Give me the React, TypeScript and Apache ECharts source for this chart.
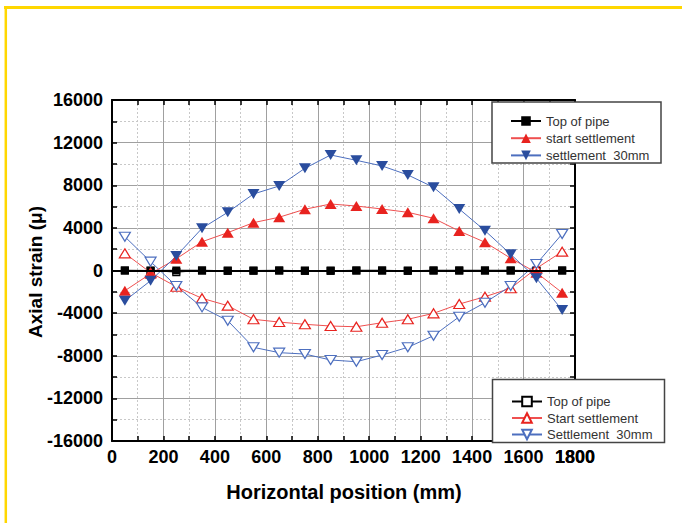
import React, { useEffect, useRef } from "react";
import * as echarts from "echarts";

const xPositions = [50, 150, 250, 350, 450, 550, 650, 750, 850, 950, 1050, 1150, 1250, 1350, 1450, 1550, 1650, 1750];
const topOfPipe = [0, -30, 0, 0, -40, -30, 0, -40, -40, 0, 0, -40, 0, 0, 0, 0, -40, 0];
const topOfPipeHollow = [0, 0, -150, 0, 0, 0, 0, 0, 0, 0, 0, 0, 0, 0, 0, 0, 0, 0];
const startSettlement = [-1900, -300, 1100, 2700, 3550, 4490, 5000, 5750, 6240, 6050, 5770, 5460, 4900, 3700, 2650, 1150, -200, -2080];
const settlement30 = [-2840, -960, 1360, 3960, 5460, 7180, 7930, 9590, 10840, 10340, 9810, 8970, 7810, 5770, 3740, 1520, -730, -3710];
const startSettlementHollow = [1610, -200, -1520, -2610, -3300, -4580, -4840, -5050, -5210, -5280, -4900, -4580, -4020, -3150, -2460, -1670, 200, 1770];
const settlement30Hollow = [3170, 830, -1450, -3460, -4710, -7210, -7710, -7840, -8400, -8560, -7930, -7210, -6120, -4340, -3020, -1460, 610, 3430];

const xMax = 1800;
const yMin = -16000;

const legend1Names = ["Top of pipe", "start settlement", "settlement  30mm"];
const legend2Names = ["Top of pipe (open)", "Start settlement", "Settlement  30mm"];
const legend2Labels: Record<string, string> = {
  "Top of pipe (open)": "Top of pipe",
  "Start settlement": "Start settlement",
  "Settlement  30mm": "Settlement  30mm",
};

const FONT = 'Arial, "Liberation Sans", Helvetica, sans-serif';
const RED = "#e8231f";
const RED_LINE = "#ef5050";
const BLUE = "#2a4d9e";
const BLUE_LINE = "#4d6fbf";

function pairs(vals: number[]) {
  return xPositions.map((x, i) => [x, vals[i]]);
}

export default function App() {
  const ref = useRef<HTMLDivElement>(null);
  useEffect(() => {
    if (!ref.current) return;
    const chart = echarts.init(ref.current, undefined, { renderer: "svg" });
    const tickStyle = { show: true, inside: true, length: 5, lineStyle: { color: "#000", width: 1.5 } };
    const minorTick = { show: true, splitNumber: 2, length: 5, lineStyle: { color: "#000", width: 1.5 } };
    const axisLine = { show: true, onZero: false, lineStyle: { color: "#000", width: 2 } };
    const plainLabel = (v: number) => String(Math.round(v));
    const labelStyle = {
      color: "#000",
      fontFamily: FONT,
      fontWeight: "bold" as const,
      fontSize: 18,
      formatter: plainLabel,
    };
    const hiddenLabel = { show: false, fontSize: 1, formatter: () => "" };
    const option: any = {
      animation: false,
      backgroundColor: "#fff",
      grid: { left: 112, right: 107, top: 100, bottom: 82, containLabel: false },
      xAxis: [
        {
          type: "value",
          min: 0,
          max: xMax,
          interval: 200,
          position: "bottom",
          axisLine,
          axisTick: tickStyle,
          minorTick,
          axisLabel: { ...labelStyle, margin: 7, showMaxLabel: true },
          splitLine: { show: true, lineStyle: { color: "#a0a0a0", width: 1 } },
          minorSplitLine: { show: true, lineStyle: { color: "#c8c8c8", width: 1, type: [2, 2] } },
        },
        {
          type: "value",
          min: 0,
          max: xMax,
          interval: 200,
          position: "top",
          axisLine,
          axisTick: tickStyle,
          minorTick,
          axisLabel: hiddenLabel,
          splitLine: { show: false },
        },
      ],
      yAxis: [
        {
          type: "value",
          min: yMin,
          max: 16000,
          interval: 4000,
          position: "left",
          axisLine,
          axisTick: tickStyle,
          minorTick,
          axisLabel: { ...labelStyle, margin: 9 },
          splitLine: { show: true, lineStyle: { color: "#a0a0a0", width: 1 } },
          minorSplitLine: { show: true, lineStyle: { color: "#c8c8c8", width: 1, type: [2, 2] } },
        },
        {
          type: "value",
          min: yMin,
          max: 16000,
          interval: 4000,
          position: "right",
          axisLine,
          axisTick: tickStyle,
          minorTick,
          axisLabel: hiddenLabel,
          splitLine: { show: false },
        },
      ],
      legend: [
        {
          data: legend1Names,
          orient: "vertical",
          left: 510,
          top: 114.5,
          padding: 0,
          itemWidth: 30,
          itemHeight: 12,
          itemGap: 4.2,
          z: 10,
          selectedMode: false,
          textStyle: { fontFamily: FONT, fontSize: 13, color: "#333" },
        },
        {
          data: legend2Names,
          orient: "vertical",
          left: 511,
          top: 395,
          padding: 0,
          itemWidth: 30,
          itemHeight: 12,
          itemGap: 3.5,
          z: 10,
          selectedMode: false,
          formatter: (n: string) => legend2Labels[n] ?? n,
          textStyle: { fontFamily: FONT, fontSize: 13, color: "#333" },
        },
      ],
      graphic: [
        { type: "line", z: 100, shape: { x1: 4, y1: 7.5, x2: 682, y2: 7.5 }, style: { stroke: "#ffd700", lineWidth: 3 } },
        { type: "line", z: 100, shape: { x1: 5.8, y1: 6, x2: 5.8, y2: 523 }, style: { stroke: "#ffd700", lineWidth: 2.5 } },
        {
          type: "rect",
          z: 5,
          shape: { x: 492, y: 102, width: 169, height: 61 },
          style: { fill: "#fff", stroke: "#444", lineWidth: 1.5 },
        },
        {
          type: "rect",
          z: 5,
          shape: { x: 492.5, y: 379.5, width: 172, height: 63 },
          style: { fill: "#fff", stroke: "#444", lineWidth: 1.5 },
        },
        {
          type: "text",
          z: 10,
          style: {
            text: "Horizontal position (mm)",
            x: 344,
            y: 492,
            align: "center",
            verticalAlign: "middle",
            fontFamily: FONT,
            fontWeight: "bold",
            fontSize: 20,
            fill: "#000",
          },
        },
        {
          type: "text",
          z: 10,
          x: 35,
          y: 272,
          rotation: Math.PI / 2,
          style: {
            text: "Axial strain (\u03bc)",
            x: 0,
            y: 0,
            align: "center",
            verticalAlign: "middle",
            fontFamily: FONT,
            fontWeight: "bold",
            fontSize: 19,
            fill: "#000",
          },
        },
      ],
      series: [
        {
          name: "Top of pipe (open)",
          type: "line",
          z: 2,
          data: pairs(topOfPipeHollow),
          symbol: "rect",
          symbolSize: 7,
          itemStyle: { color: "#fff", borderColor: "#000", borderWidth: 1.2 },
          lineStyle: { color: "#000", width: 1 },
        },
        {
          name: "Top of pipe",
          type: "line",
          z: 3,
          data: pairs(topOfPipe),
          symbol: "rect",
          symbolSize: 8,
          itemStyle: { color: "#000" },
          lineStyle: { color: "#000", width: 1.5 },
          markLine: {
            silent: true,
            symbol: "none",
            label: { show: false },
            lineStyle: { color: "#000", width: 2, type: "solid" },
            data: [{ yAxis: 0 }],
          },
        },
        {
          name: "Start settlement",
          type: "line",
          z: 3,
          data: pairs(startSettlementHollow),
          symbol: "triangle",
          symbolSize: [11, 9],
          itemStyle: { color: "#fff", borderColor: RED, borderWidth: 1.2 },
          lineStyle: { color: RED_LINE, width: 1 },
        },
        {
          name: "Settlement  30mm",
          type: "line",
          z: 3,
          data: pairs(settlement30Hollow),
          symbol: "triangle",
          symbolRotate: 180,
          symbolSize: [11, 9],
          itemStyle: { color: "#fff", borderColor: BLUE_LINE, borderWidth: 1.2 },
          lineStyle: { color: BLUE_LINE, width: 1 },
        },
        {
          name: "start settlement",
          type: "line",
          z: 4,
          data: pairs(startSettlement),
          symbol: "triangle",
          symbolSize: [12, 10],
          itemStyle: { color: RED },
          lineStyle: { color: RED_LINE, width: 1 },
        },
        {
          name: "settlement  30mm",
          type: "line",
          z: 4,
          data: pairs(settlement30),
          symbol: "triangle",
          symbolRotate: 180,
          symbolSize: [12, 10],
          itemStyle: { color: BLUE },
          lineStyle: { color: BLUE_LINE, width: 1 },
        },
      ],
    };
    chart.setOption(option);

    // The end-of-axis tick label ("1800") is dropped by ECharts here; place it
    // at the position given by the library's own x/y scales.
    const px = chart.convertToPixel({ xAxisIndex: 0 }, xMax) as number;
    const py = chart.convertToPixel({ yAxisIndex: 0 }, yMin) as number;
    chart.setOption({
      graphic: [
        ...option.graphic,
        {
          type: "text",
          z: 10,
          style: {
            text: plainLabel(xMax),
            x: px,
            y: py + 7,
            align: "center",
            verticalAlign: "top",
            fontFamily: FONT,
            fontWeight: "bold",
            fontSize: 18,
            fill: "#000",
          },
        },
      ],
    });
    return () => chart.dispose();
  }, []);
  return (
    <div
      ref={ref}
      style={{ position: "absolute", left: 0, top: 0, width: 682, height: 523, background: "#fff" }}
    />
  );
}
